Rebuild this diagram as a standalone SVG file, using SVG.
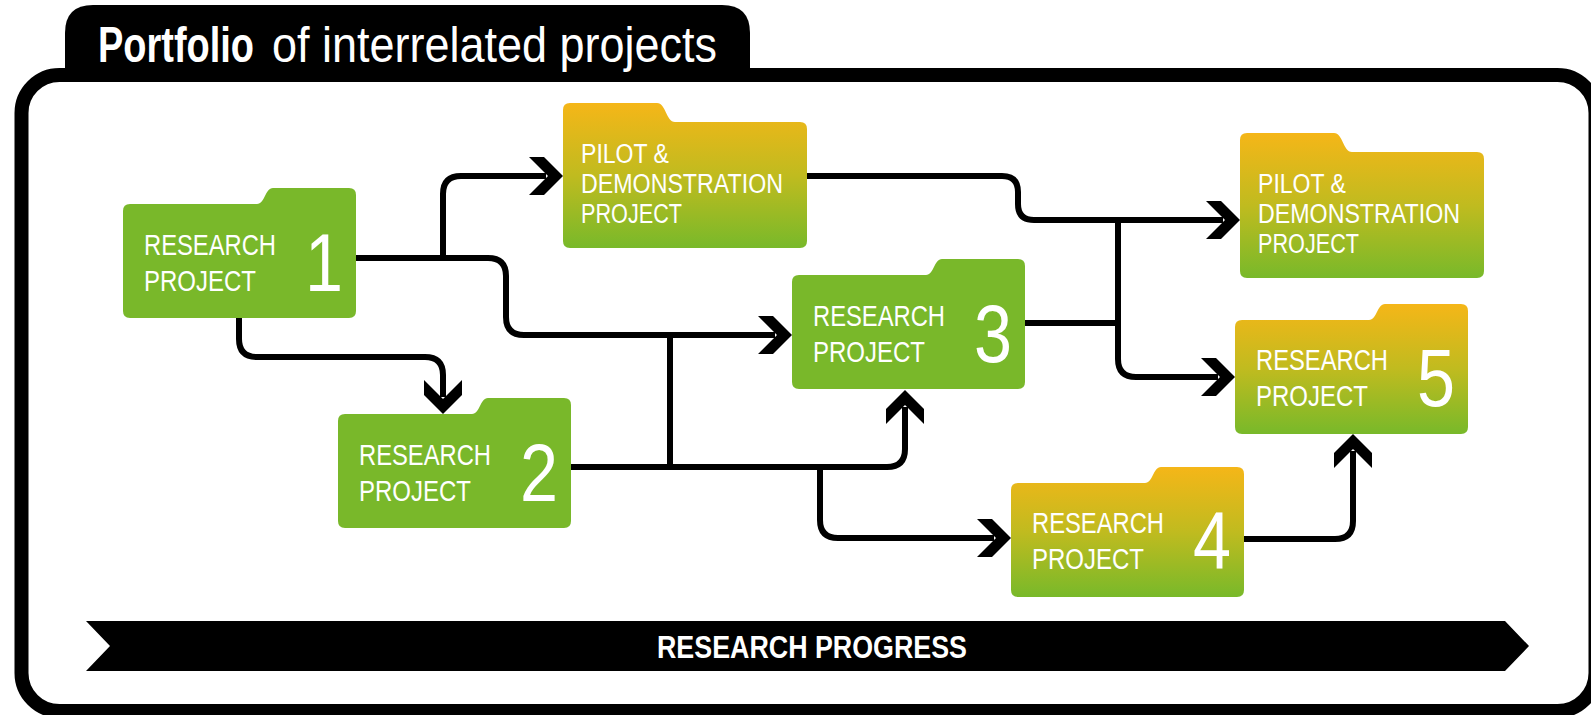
<svg xmlns="http://www.w3.org/2000/svg" width="1591" height="715" viewBox="0 0 1591 715">
<style>
.lbl{fill:#fff;font-family:"Liberation Sans",Arial,sans-serif;}
.rt{font-size:30px;}
.pt{font-size:27px;}
.num{font-size:82px;text-anchor:middle;}
.conn{fill:none;stroke:#000;stroke-width:6;}
.green{fill:#79b82a;}
.grad{fill:url(#yg);}
</style>
<defs>
<linearGradient id="yg" x1="0" y1="0" x2="0" y2="1">
<stop offset="0" stop-color="#f5b618"/>
<stop offset="0.5" stop-color="#c0bb1f"/>
<stop offset="1" stop-color="#78b92a"/>
</linearGradient>
<path id="rshape" d="M0,7 Q0,0 7,0 H134 C142,0 142,-16 150,-16 H226 Q233,-16 233,-9 V107 Q233,114 226,114 H7 Q0,114 0,107 Z"/>
<path id="pshape" d="M0,-12 Q0,-19 7,-19 H94 C103,-19 103,0 112,0 H237 Q244,0 244,7 V119 Q244,126 237,126 H7 Q0,126 0,119 Z"/>
<path id="ah" d="M0,0 L-19,-19 L-34,-19 L-15,0 L-34,19 L-19,19 Z" fill="#000"/>
</defs>
<rect width="1591" height="715" fill="#fff"/>
<g id="frame">
<rect x="21.5" y="75" width="1574" height="636" rx="38" fill="#fff" stroke="#000" stroke-width="14"/>
<path d="M65,75 V33 Q65,5 93,5 H722 Q750,5 750,33 V75 Z" fill="#000"/>
<text class="lbl" transform="translate(98,62) scale(0.759,1)" font-size="50" font-weight="bold">Portfolio</text>
<text class="lbl" transform="translate(272,62) scale(0.9,1)" font-size="50">of interrelated projects</text>
</g>
<g id="progress">
<polygon points="86,621 1505,621 1529,646 1505,671 86,671 110,646" fill="#000"/>
<text class="lbl" x="812" y="658" font-size="32" font-weight="bold" text-anchor="middle" textLength="310" lengthAdjust="spacingAndGlyphs">RESEARCH PROGRESS</text>
</g>
<g id="connectors">
<path class="conn" d="M356,258 H488 Q506,258 506,276 V317 Q506,335 524,335 H775"/>
<path class="conn" d="M443,258 V194 Q443,176 461,176 H546"/>
<path class="conn" d="M239,318 V339 Q239,357 257,357 H425 Q443,357 443,375 V397"/>
<path class="conn" d="M670,335 V467"/>
<path class="conn" d="M571,467 H887 Q905,467 905,449 V407"/>
<path class="conn" d="M820,467 V520 Q820,538 838,538 H994"/>
<path class="conn" d="M807,176 H1002 Q1018,176 1018,192 V204 Q1018,220 1034,220 H1223"/>
<path class="conn" d="M1118,220 V359 Q1118,377 1136,377 H1218"/>
<path class="conn" d="M1025,323 H1118"/>
<path class="conn" d="M1244,539 H1335 Q1353,539 1353,521 V451"/>
<use href="#ah" transform="translate(563,176)"/>
<use href="#ah" transform="translate(792,335)"/>
<use href="#ah" transform="translate(443,414) rotate(90)"/>
<use href="#ah" transform="translate(905,390) rotate(-90)"/>
<use href="#ah" transform="translate(1011,538)"/>
<use href="#ah" transform="translate(1240,220)"/>
<use href="#ah" transform="translate(1235,377)"/>
<use href="#ah" transform="translate(1353,434) rotate(-90)"/>
</g>
<g id="r1" transform="translate(123,204)">
<use href="#rshape" class="green"/>
<text class="lbl rt" x="21" y="51" textLength="132" lengthAdjust="spacingAndGlyphs">RESEARCH</text>
<text class="lbl rt" x="21" y="87" textLength="112" lengthAdjust="spacingAndGlyphs">PROJECT</text>
<text class="lbl num" x="201" y="87" textLength="38" lengthAdjust="spacingAndGlyphs">1</text>
</g>
<g id="r2" transform="translate(338,414)">
<use href="#rshape" class="green"/>
<text class="lbl rt" x="21" y="51" textLength="132" lengthAdjust="spacingAndGlyphs">RESEARCH</text>
<text class="lbl rt" x="21" y="87" textLength="112" lengthAdjust="spacingAndGlyphs">PROJECT</text>
<text class="lbl num" x="201" y="87" textLength="38" lengthAdjust="spacingAndGlyphs">2</text>
</g>
<g id="r3" transform="translate(792,275)">
<use href="#rshape" class="green"/>
<text class="lbl rt" x="21" y="51" textLength="132" lengthAdjust="spacingAndGlyphs">RESEARCH</text>
<text class="lbl rt" x="21" y="87" textLength="112" lengthAdjust="spacingAndGlyphs">PROJECT</text>
<text class="lbl num" x="201" y="87" textLength="38" lengthAdjust="spacingAndGlyphs">3</text>
</g>
<g id="r4" transform="translate(1011,483)">
<use href="#rshape" class="grad"/>
<text class="lbl rt" x="21" y="50" textLength="132" lengthAdjust="spacingAndGlyphs">RESEARCH</text>
<text class="lbl rt" x="21" y="86" textLength="112" lengthAdjust="spacingAndGlyphs">PROJECT</text>
<text class="lbl num" x="201" y="86" textLength="38" lengthAdjust="spacingAndGlyphs">4</text>
</g>
<g id="r5" transform="translate(1235,320)">
<use href="#rshape" class="grad"/>
<text class="lbl rt" x="21" y="50" textLength="132" lengthAdjust="spacingAndGlyphs">RESEARCH</text>
<text class="lbl rt" x="21" y="86" textLength="112" lengthAdjust="spacingAndGlyphs">PROJECT</text>
<text class="lbl num" x="201" y="86" textLength="38" lengthAdjust="spacingAndGlyphs">5</text>
</g>
<g id="pd1" transform="translate(563,122)">
<use href="#pshape" class="grad"/>
<text class="lbl pt" x="18" y="41" textLength="88" lengthAdjust="spacingAndGlyphs">PILOT &amp;</text>
<text class="lbl pt" x="18" y="71" textLength="202" lengthAdjust="spacingAndGlyphs">DEMONSTRATION</text>
<text class="lbl pt" x="18" y="101" textLength="101" lengthAdjust="spacingAndGlyphs">PROJECT</text>
</g>
<g id="pd2" transform="translate(1240,152)">
<use href="#pshape" class="grad"/>
<text class="lbl pt" x="18" y="41" textLength="88" lengthAdjust="spacingAndGlyphs">PILOT &amp;</text>
<text class="lbl pt" x="18" y="71" textLength="202" lengthAdjust="spacingAndGlyphs">DEMONSTRATION</text>
<text class="lbl pt" x="18" y="101" textLength="101" lengthAdjust="spacingAndGlyphs">PROJECT</text>
</g>
</svg>
